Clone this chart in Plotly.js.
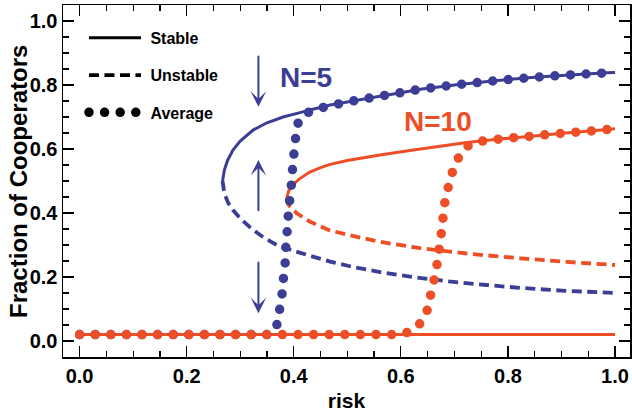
<!DOCTYPE html>
<html>
<head>
<meta charset="utf-8">
<script src="https://cdn.plot.ly/plotly-3.0.1.min.js"></script>
<style>
html,body{margin:0;padding:0;background:#fff;}
#chart{width:632px;height:412px;}
path[style*="stroke-dasharray: 0px"]{stroke-linecap:round !important;}
</style>
</head>
<body>
<div id="chart"></div>
<script>
// ---- data ----
const n5StableX = [0.267,0.2705,0.2765,0.2865,0.30,0.324,0.35,0.380,0.41,0.430,0.468,0.50,0.55,0.60,0.636,0.70,0.780,0.85,0.90,0.9845,1.0];
const n5StableY = [0.50,0.535,0.565,0.597,0.625,0.659,0.682,0.70,0.713,0.722,0.7375,0.747,0.762,0.776,0.787,0.80,0.814,0.824,0.83,0.838,0.839];
const n5UnstableX = [0.267,0.2705,0.278,0.2865,0.30,0.322,0.3425,0.368,0.40,0.43,0.468,0.51,0.561,0.62,0.69,0.76,0.823,0.90,1.0];
const n5UnstableY = [0.50,0.46,0.43,0.409,0.383,0.35,0.325,0.30,0.2815,0.2665,0.248,0.2315,0.2155,0.2005,0.186,0.175,0.166,0.1575,0.15];
const n10StableX = [0.387,0.3905,0.394,0.399,0.41,0.43,0.45,0.468,0.50,0.561,0.62,0.68,0.723,0.784,0.844,0.902,0.959,1.0];
const n10StableY = [0.447,0.469,0.479,0.489,0.506,0.528,0.542,0.552,0.564,0.581,0.596,0.61,0.62,0.631,0.64,0.649,0.657,0.663];
const n10UnstableX = [0.387,0.389,0.393,0.405,0.43,0.465,0.50,0.561,0.636,0.73,0.823,0.91,1.0];
const n10UnstableY = [0.447,0.43,0.42,0.40,0.373,0.347,0.332,0.31,0.29,0.272,0.2585,0.247,0.2375];
const zeroX = [0,1];
const zeroY = [0.02,0.02];
const n5AvgX = [0,0.355,0.363,0.370,0.3743,0.3786,0.3805,0.3836,0.3855,0.388,0.390,0.393,0.396,0.398,0.401,0.404,0.4085,0.42,0.4335,0.460,0.50,0.55,0.60,0.636,0.70,0.78,0.85,0.90,0.9845,1.0];
const n5AvgY = [0.02,0.02,0.03,0.057,0.107,0.152,0.193,0.232,0.303,0.349,0.397,0.451,0.495,0.545,0.597,0.644,0.685,0.708,0.72,0.732,0.747,0.762,0.776,0.787,0.80,0.814,0.824,0.83,0.838,0.839];
const n10AvgX = [0,0.60,0.616,0.6377,0.650,0.6563,0.6625,0.668,0.672,0.676,0.679,0.6825,0.689,0.697,0.7086,0.727,0.755,0.784,0.815,0.844,0.872,0.902,0.931,0.959,0.989,1.0];
const n10AvgY = [0.02,0.02,0.029,0.057,0.099,0.149,0.194,0.243,0.293,0.342,0.388,0.438,0.484,0.532,0.576,0.6125,0.626,0.631,0.636,0.64,0.645,0.649,0.653,0.657,0.6615,0.663];
const legendNames = ['Stable','Unstable','Average'];
const curveLabels = ['N=5','N=10'];
const labelX = [0.4225,0.6686];
const labelY = [0.823,0.685];
const xTitle = 'risk';
const yTitle = 'Fraction of Cooperators';
// arrows: [x, tailY, headY]
const arrowX = [0.334,0.334,0.334];
const arrowTail = [0.894,0.404,0.25];
const arrowHead = [0.732,0.566,0.087];

const BLUE = 'rgb(60,62,150)';
const RED = 'rgb(238,78,38)';
const FONT = 'Liberation Sans, Arial, sans-serif';
const SOLID_W = 3, DASH_W = 3.8, DOT_W = 9.5;
const DASH = '10px,5.5px';
const DOT = '0px,15.6px';

function ln(x,y,color,width,dash,name,legend){
  return {x:x,y:y,type:'scatter',mode:'lines',name:name||'',showlegend:!!legend,
    legendgroup:name||undefined,
    line:{color:color,width:width,dash:dash||'solid',simplify:false},hoverinfo:'skip'};
}
const traces = [
  ln(zeroX,zeroY,BLUE,SOLID_W),
  ln(n5StableX,n5StableY,BLUE,SOLID_W),
  ln(n5UnstableX,n5UnstableY,BLUE,DASH_W,DASH),
  ln(zeroX,zeroY,RED,SOLID_W),
  ln(n10StableX,n10StableY,RED,SOLID_W),
  ln(n10UnstableX,n10UnstableY,RED,DASH_W,DASH),
  ln(n5AvgX,n5AvgY,BLUE,DOT_W,DOT),
  ln(n10AvgX,n10AvgY,RED,DOT_W,DOT),
  ln([null],[null],'black',SOLID_W,'solid','\u00a0'+legendNames[0],true),
  ln([null],[null],'black',DASH_W,DASH,'\u00a0'+legendNames[1],true),
  ln([null],[null],'black',DOT_W,DOT,'\u00a0'+legendNames[2],true)
];

const annotations = [];
for(let i=0;i<curveLabels.length;i++){
  annotations.push({x:labelX[i],y:labelY[i],xref:'x',yref:'y',text:curveLabels[i],showarrow:false,
    font:{family:FONT,size:28,weight:'bold',color:i===0?BLUE:RED},xanchor:'center',yanchor:'middle'});
}
for(let i=0;i<arrowX.length;i++){
  annotations.push({x:arrowX[i],y:arrowHead[i],ax:arrowX[i],ay:arrowTail[i],axref:'x',ayref:'y',
    xref:'x',yref:'y',text:'',showarrow:true,arrowhead:3,arrowsize:1.3,arrowwidth:2,arrowcolor:BLUE});
}
annotations.push({xref:'paper',yref:'paper',x:-0.0794,y:0.5,text:yTitle,textangle:-90,showarrow:false,
  xanchor:'center',yanchor:'middle',font:{family:FONT,size:24,weight:'bold',color:'black'}});

const tickFont = {family:FONT,size:20,weight:'bold',color:'black'};
function axis(range,title,size,standoff){
  return {range:range,showline:true,linecolor:'black',linewidth:1.5,mirror:'allticks',
    ticks:'inside',ticklen:11,tickwidth:1.3,tickcolor:'black',tick0:0,dtick:0.2,tickformat:'.1f',
    minor:{dtick:0.05,ticks:'inside',ticklen:6,tickwidth:1.2,tickcolor:'black',showgrid:false},
    showgrid:false,zeroline:false,tickfont:tickFont,
    title:{text:title,font:{family:FONT,size:size,weight:'bold',color:'black'},standoff:standoff}};
}
const layout = {
  width:632,height:412,margin:{l:63,r:2,t:5,b:55},
  paper_bgcolor:'white',plot_bgcolor:'white',
  xaxis:axis([-0.031,1.028],xTitle,21,8),
  yaxis:axis([-0.05,1.05],'',22,0),
  showlegend:true,
  legend:{x:0.037,y:0.955,xanchor:'left',yanchor:'top',bgcolor:'rgba(0,0,0,0)',
    font:{family:FONT,size:16,weight:'bold',color:'black'},itemwidth:52,tracegroupgap:13.5,traceorder:'grouped'},
  annotations:annotations
};
Plotly.newPlot('chart',traces,layout,{staticPlot:true}).then(function(gd){
  gd.querySelectorAll('path').forEach(function(p){
    var d = p.style.strokeDasharray;
    if(d && parseFloat(d)===0){ p.style.strokeLinecap='round'; }
  });
});
</script>
</body>
</html>
